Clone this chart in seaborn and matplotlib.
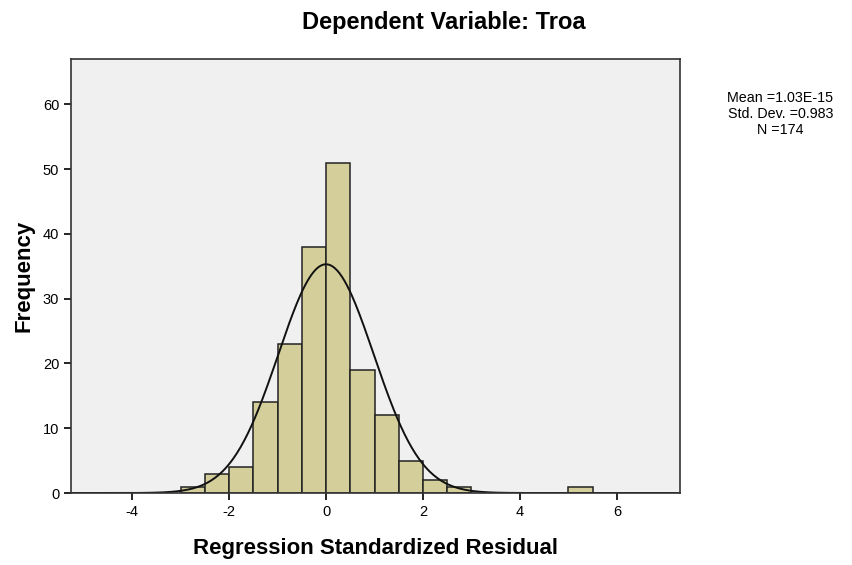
import numpy as np
import pandas as pd
import matplotlib
matplotlib.use("Agg")
import matplotlib.pyplot as plt
import seaborn as sns

# histogram data (bin width 0.5)
bin_centers = [-2.75, -2.25, -1.75, -1.25, -0.75, -0.25, 0.25, 0.75, 1.25, 1.75, 2.25, 2.75, 5.25]
counts = [1, 3, 4, 14, 23, 38, 51, 19, 12, 5, 2, 1, 1]
mean_val = 1.03e-15
std_val = 0.983
n_val = 174
bin_width = 0.5

x_ticks = [-4, -2, 0, 2, 4, 6]
y_ticks = [0, 10, 20, 30, 40, 50, 60]

sns.set_style("ticks")
plt.rcParams['font.family'] = ['Liberation Sans', 'DejaVu Sans']
plt.rcParams['axes.unicode_minus'] = False
plt.rcParams['text.color'] = 'black'
plt.rcParams['axes.labelcolor'] = 'black'

df = pd.DataFrame({'resid': bin_centers, 'count': counts})

fig = plt.figure(figsize=(8.52, 5.65), dpi=100)
ax = fig.add_axes([0.0833, 0.1274, 0.7148, 0.7682])
ax.set_facecolor('#f0f0f0')

sns.histplot(data=df, x='resid', weights='count', binwidth=bin_width, binrange=(-3, 5.5),
             color='#d3ce9a', alpha=1, edgecolor='#222222', linewidth=1.1, ax=ax)
# drop empty bins so no edge line is drawn between 3 and 5
for p in ax.patches:
    if p.get_height() == 0:
        p.set_visible(False)

#normal curve from the stats in the legend
xs = np.linspace(-5.3, 7.3, 500)
ys = n_val * bin_width * np.exp(-0.5 * ((xs - mean_val) / std_val) ** 2) / (std_val * np.sqrt(2 * np.pi))
ax.plot(xs, ys, color='#111111', linewidth=1.4)

ax.set_xlim(-5.26, 7.3)
ax.set_ylim(0, 67)
ax.set_xticks(x_ticks)
ax.set_yticks(y_ticks)
ax.tick_params(axis='both', direction='out', length=5, width=1.2, labelsize=10.5, colors='black')
for s in ax.spines.values():
    s.set_color('#333333')
    s.set_linewidth(1.2)

ax.set_xlabel('Regression Standardized Residual', fontsize=16, fontweight='bold', labelpad=14)
ax.set_ylabel('Frequency', fontsize=16, fontweight='bold', labelpad=6)

fig.text(0.521, 0.961, 'Dependent Variable: Troa', ha='center', va='center',
         fontsize=17, fontweight='bold')
fig.text(0.916, 0.798, 'Mean =1.03E-15\nStd. Dev. =0.983\nN =174', ha='center', va='center',
         fontsize=10.3, linespacing=1.15)

fig.savefig('out.png', dpi=100)
